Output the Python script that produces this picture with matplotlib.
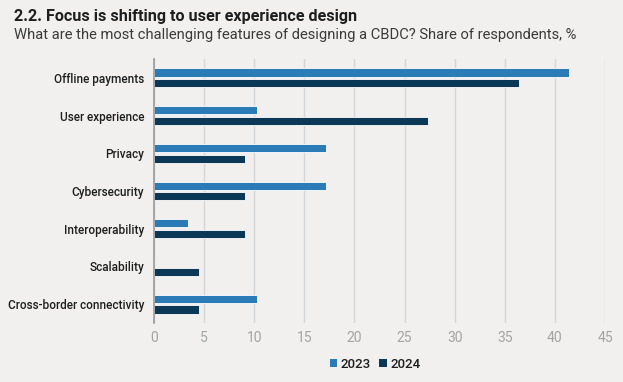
import matplotlib
matplotlib.use("Agg")
import matplotlib.pyplot as plt
import numpy as np
from matplotlib.patches import Patch

categories = ["Offline payments", "User experience", "Privacy", "Cybersecurity",
              "Interoperability", "Scalability", "Cross-border connectivity"]
series_names = ["2023", "2024"]
values_2023 = [41.4, 10.3, 17.2, 17.2, 3.4, 0.0, 10.3]
values_2024 = [36.4, 27.3, 9.1, 9.1, 9.1, 4.5, 4.5]
x_ticks = [0, 5, 10, 15, 20, 25, 30, 35, 40, 45]

title = "2.2. Focus is shifting to user experience design"
subtitle = "What are the most challenging features of designing a CBDC? Share of respondents, %"

bg = "#f1f0ee"
c2023 = "#2b7bb6"
c2024 = "#0b3857"

plt.rcParams['font.family'] = ['Roboto', 'DejaVu Sans']

fig = plt.figure(figsize=(6.23, 3.82), dpi=100, facecolor=bg)
ax = fig.add_axes([154/623, 1-323/382, (605-154)/623, (323-59)/382])
ax.set_facecolor(bg)

y = np.arange(len(categories))
h = 0.215
off = 0.142
ax.barh(y - off, values_2023, height=h, color=c2023, edgecolor="white", linewidth=0.6, zorder=3)
ax.barh(y + off, values_2024, height=h, color=c2024, edgecolor="white", linewidth=0.6, zorder=3)

ax.set_ylim(len(categories) - 0.5, -0.5)
ax.set_xlim(0, 45)
ax.set_yticks(y)
ax.set_yticklabels(categories, fontsize=8.5, fontweight='medium', color="#1e1e1e")
ax.set_xticks(x_ticks)
ax.set_xticklabels([str(t) for t in x_ticks], fontsize=10, color="#a3a3a3")
ax.tick_params(axis='y', length=0, pad=7)
ax.tick_params(axis='x', length=0, pad=6)
ax.grid(axis='x', color="#d6d6d6", linewidth=1.0, zorder=0)
for s in ["top", "right", "bottom"]:
    ax.spines[s].set_visible(False)
ax.spines["left"].set_color("#9a9a9a")
ax.spines["left"].set_linewidth(1.2)
ax.spines["left"].set_zorder(4)

fig.text(14/623, 1-21/382, title, fontsize=11.6, fontweight='bold', color="#1e1e1e", va='baseline', ha='left')
fig.text(14/623, 1-39/382, subtitle, fontsize=10.6, color="#3a3a3a", va='baseline', ha='left')

handles = [Patch(facecolor=c2023, edgecolor='none'), Patch(facecolor=c2024, edgecolor='none')]
fig.legend(handles, series_names, loc='center', bbox_to_anchor=(375/623, 1-364/382), ncol=2,
           frameon=False, handlelength=0.6, handleheight=0.6, handletextpad=0.25,
           columnspacing=0.6, prop={'size': 9.5, 'weight': 'medium'}, labelcolor="#1e1e1e")

fig.savefig("out.png", dpi=100, facecolor=bg)
